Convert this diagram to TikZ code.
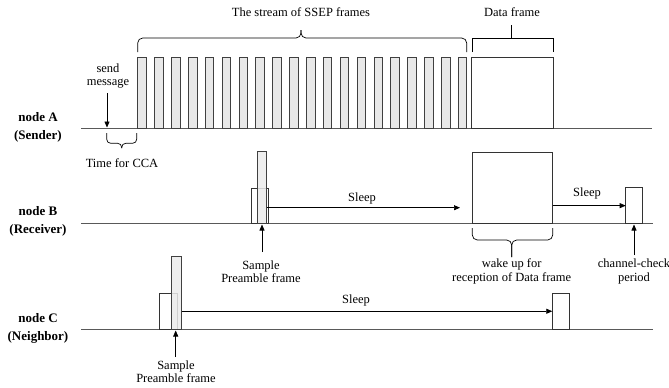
\documentclass[tikz,border=0pt]{standalone}
\usepackage{fontspec}
\setmainfont{Liberation Serif}
\usetikzlibrary{arrows.meta}

\begin{document}
\begin{tikzpicture}[x=1pt,y=-1pt,
  frame/.style={draw=black!75, line width=0.8pt, fill=gray!18, inner sep=0pt, outer sep=0pt, anchor=south west},
  sample/.style={draw=black!75, line width=0.8pt, fill=gray!16, fill opacity=0.85, inner sep=0pt, outer sep=0pt, anchor=south west},
  box/.style={draw=black!80, line width=0.8pt, fill=white, inner sep=0pt, outer sep=0pt, anchor=south west},
  tline/.style={draw=black!65, line width=0.9pt},
  arr/.style={-{Triangle[length=6pt,width=5pt]}, line width=0.7pt},
  bracestyle/.style={line width=0.7pt, rounded corners=5pt},
  lbl/.style={font=\fontsize{12.5}{13.5}\selectfont, inner sep=0pt, align=center},
  nlbl/.style={font=\bfseries\fontsize{13}{18}\selectfont, inner sep=0pt, align=center}]

\useasboundingbox (0,0) rectangle (669,388);

% ---------- node A (sender) ----------
\node[nlbl] (labA) at (38,127) {node A\\(Sender)};
\draw[tline] (81,128.5) -- (652,128.5);

% stream of SSEP frames
\foreach \i in {0,...,19}
  \node[frame, minimum width=8.5pt, minimum height=71pt] (f\i) at ({137.8+16.87*\i},128.5) {};
% data frame
\node[box, minimum width=81.5pt, minimum height=71pt] (dataA) at (471.8,128.5) {};

% send message
\node[lbl] (send) at (108,76) {send\\message};
\coordinate (sendtop) at (107,93);
\coordinate (sendhit) at (107,127.5);
\draw[arr] (sendtop) -- (sendhit);

% brace over the SSEP stream
\node[lbl] (streamlbl) at (301,12) {The stream of SSEP frames};
\draw[bracestyle] (137.7,52) -- (137.7,38) -- (301,38) -- (301,30);
\draw[bracestyle] (466.7,52) -- (466.7,38) -- (301,38) -- (301,30);

% bracket over the data frame
\node[lbl] (datalbl) at (512,12) {Data frame};
\draw[line width=0.7pt] (472,52) -- (472,38) -- (553,38) -- (553,52);
\draw[line width=0.7pt] (511.7,38) -- (511.7,25);

% brace for the CCA time
\draw[bracestyle, rounded corners=4pt] (106.7,133) -- (106.7,143.3) -- (121.7,143.3) -- (121.7,148);
\draw[bracestyle, rounded corners=4pt] (136.7,133) -- (136.7,143.3) -- (121.7,143.3) -- (121.7,148);
\node[lbl] (ccalbl) at (122,163) {Time for CCA};

% ---------- node B (receiver) ----------
\node[nlbl] (labB) at (38,221) {node B\\(Receiver)};
\draw[tline] (81,223.5) -- (653,223.5);

\node[box, minimum width=16.6pt, minimum height=35.5pt] (bbox) at (251.7,223.5) {};
\node[sample, minimum width=9.4pt, minimum height=72pt] (btall) at (257.3,223.5) {};

\coordinate (bsleepend) at (460,207.7);
\draw[arr] (btall.east |- bsleepend) -- (bsleepend);
\node[lbl] (bsleep) at (362,198) {Sleep};

\node[box, minimum width=80.4pt, minimum height=71.5pt] (brecv) at (472.3,223.5) {};
\node[box, minimum width=16.6pt, minimum height=35.7pt] (bchk) at (625.7,223.5) {};
\draw[arr] (brecv.east |- bchk.west) -- (bchk.west);
\node[lbl] (bsleep2) at (587,193) {Sleep};

% sample preamble frame on B
\coordinate (bsfoot) at (262,252);
\coordinate (bshead) at (262,224.5);
\draw[arr] (bsfoot) -- (bshead);
\node[lbl] (bsamplbl) at (261,271.5) {Sample\\Preamble frame};

% wake-up brace
\draw[bracestyle] (472.3,228) -- (472.3,240) -- (511.7,240) -- (511.7,257);
\draw[bracestyle] (552.7,228) -- (552.7,240) -- (511.7,240) -- (511.7,257);
\node[lbl] (wakelbl) at (511.7,271.5) {wake up for\\reception of Data frame};

% channel-check period
\coordinate (chkfoot) at (634,255);
\coordinate (chkhead) at (634,224.5);
\draw[arr] (chkfoot) -- (chkhead);
\node[lbl] (chklbl) at (634,271.5) {channel-check\\period};

% ---------- node C (neighbor) ----------
\node[nlbl] (labC) at (38,328.5) {node C\\(Neighbor)};
\draw[tline] (81,329.5) -- (653,329.5);

\node[box, minimum width=18pt, minimum height=36.5pt] (cbox) at (159.3,329.5) {};
\node[sample, minimum width=10.7pt, minimum height=73.5pt] (ctall) at (171,329.5) {};

\node[box, minimum width=16.7pt, minimum height=36.5pt] (cend) at (552.3,329.5) {};
\draw[arr] (ctall.east |- cend.west) -- (cend.west);
\node[lbl] (csleep) at (356,300.7) {Sleep};

\coordinate (csfoot) at (175.7,357);
\coordinate (cshead) at (175.7,330.5);
\draw[arr] (csfoot) -- (cshead);
\node[lbl] (csamplbl) at (176,371.5) {Sample\\Preamble frame};

\end{tikzpicture}
\end{document}
